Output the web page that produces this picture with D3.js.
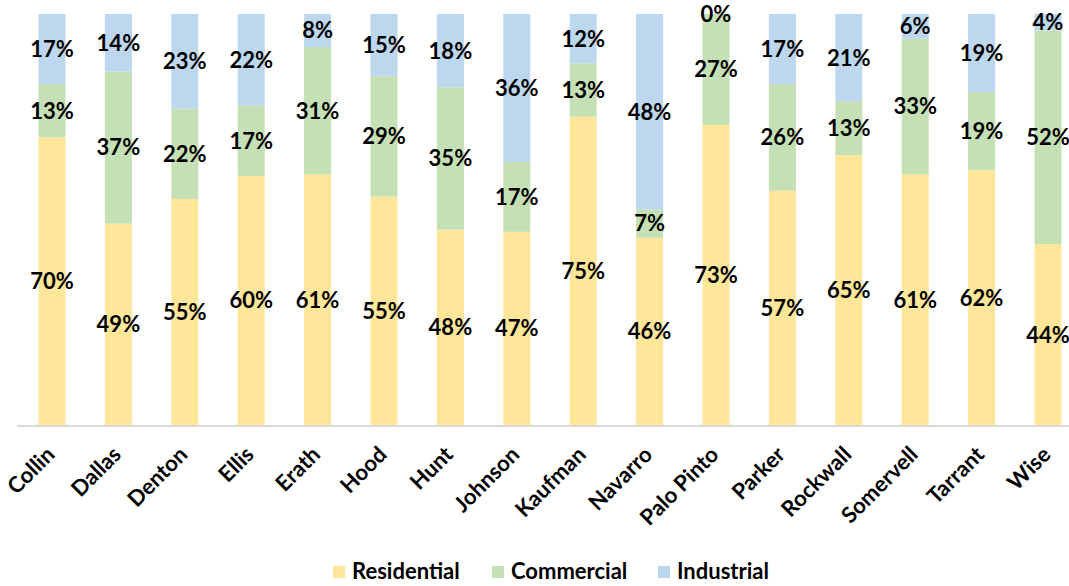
<!DOCTYPE html>
<html>
<head>
<meta charset="utf-8">
<script src="https://cdn.jsdelivr.net/npm/d3@7"></script>
<style>
  html, body { margin: 0; padding: 0; background: #fff; }
  svg { display: block; }
  text { font-family: Lato, "Open Sans", sans-serif; font-weight: 700; fill: #000; }
</style>
</head>
<body>
<svg id="chart" width="1069" height="586"></svg>
<script>
// Share of each county's total by sector (percent)
const counties = ["Collin", "Dallas", "Denton", "Ellis", "Erath", "Hood", "Hunt", "Johnson",
  "Kaufman", "Navarro", "Palo Pinto", "Parker", "Rockwall", "Somervell", "Tarrant", "Wise"];
const residential = [70, 49, 55, 60, 61, 55, 48, 47, 75, 46, 73, 57, 65, 61, 62, 44];
const commercial  = [13, 37, 22, 17, 31, 29, 35, 17, 13, 7, 27, 26, 13, 33, 19, 52];
const industrial  = [17, 14, 23, 22, 8, 15, 18, 36, 12, 48, 0, 17, 21, 6, 19, 4];
const seriesNames = ["Residential", "Commercial", "Industrial"];
const seriesColors = ["#FFE699", "#C5E0B4", "#BDD7EE"];

const rows = counties.map((c, i) => ({
  county: c, Residential: residential[i], Commercial: commercial[i], Industrial: industrial[i]
}));

const svg = d3.select("#chart");
const W = 1069, H = 586;
const plotTop = 14, plotBottom = 425, plotLeft = 18.8, plotRight = 1081.2;

// The plot area runs slightly past the right edge of the canvas
const x = d3.scaleBand().domain(counties)
  .range([plotLeft, plotRight]).paddingInner(0.593).paddingOuter(0.2965);
const y = d3.scaleLinear().domain([0, 1]).range([plotBottom, plotTop]);
const color = d3.scaleOrdinal().domain(seriesNames).range(seriesColors);

// 100% stacked layout
const stacked = d3.stack().keys(seriesNames).offset(d3.stackOffsetExpand)(rows);

const layers = svg.append("g").selectAll("g").data(stacked).join("g")
  .attr("fill", d => color(d.key));

layers.selectAll("rect").data(d => d).join("rect")
  .attr("x", d => x(d.data.county))
  .attr("width", x.bandwidth())
  .attr("y", d => y(d[1]))
  .attr("height", d => y(d[0]) - y(d[1]));

// Value labels centred in each segment
const labels = svg.append("g").attr("font-size", 22).attr("text-anchor", "middle");
stacked.forEach(layer => {
  labels.selectAll(null).data(layer).join("text")
    .attr("x", d => x(d.data.county) + x.bandwidth() / 2)
    .attr("y", d => y((d[0] + d[1]) / 2))
    .attr("dy", "0.36em")
    .text(d => d.data[layer.key] + "%");
});

// Baseline
svg.append("line")
  .attr("x1", 17).attr("x2", W)
  .attr("y1", y(0) + 1).attr("y2", y(0) + 1)
  .attr("stroke", "#D9D9D9").attr("stroke-width", 2);

// Category axis labels, rotated
const xAxis = svg.append("g").attr("transform", `translate(0,${y(0)})`)
  .call(d3.axisBottom(x).tickSize(0).tickPadding(0));
xAxis.select(".domain").remove();
xAxis.selectAll("text")
  .attr("font-family", "Lato, 'Open Sans', sans-serif")
  .attr("font-weight", 700)
  .attr("font-size", 22)
  .attr("fill", "#000")
  .attr("text-anchor", "end")
  .attr("dy", null)
  .attr("y", 0)
  .attr("transform", "translate(4,31) rotate(-45)");

// Legend
const legendItems = [
  { name: "Residential", x: 333 },
  { name: "Commercial", x: 492 },
  { name: "Industrial", x: 658 }
];
const legend = svg.append("g");
const li = legend.selectAll("g").data(legendItems).join("g")
  .attr("transform", d => `translate(${d.x},566)`);
li.append("rect").attr("width", 12).attr("height", 12).attr("fill", d => color(d.name));
li.append("text").attr("x", 19).attr("y", 13).attr("font-size", 22).text(d => d.name);
</script>
</body>
</html>
